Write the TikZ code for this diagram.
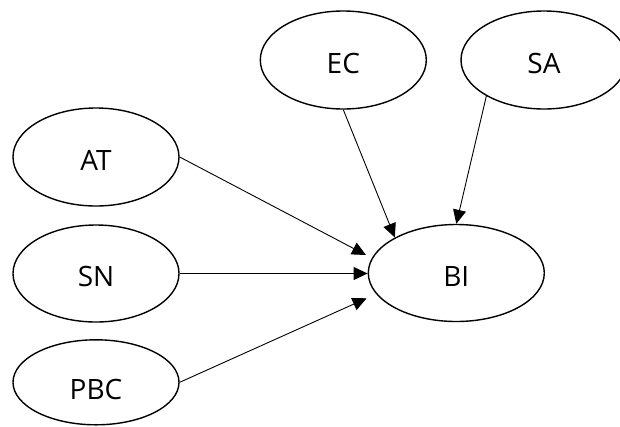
\documentclass[tikz,border=0pt]{standalone}
\usepackage{fontspec}
\setmainfont{Open Sans}
\usetikzlibrary{shapes.geometric,arrows.meta,calc}

\tikzset{
  construct/.style={ellipse, draw=black, line width=1.4pt, fill=white,
    inner sep=0pt, minimum width=166pt, minimum height=98pt,
    font=\fontsize{28}{33}\selectfont, text height=26.5pt, text depth=0pt},
  link/.style={draw=black, line width=0.9pt,
    -{Triangle[length=14pt,width=13pt]}}
}

\begin{document}
\begin{tikzpicture}[x=1pt, y=-1pt]
  \clip (0,0) rectangle (620,426);
  \useasboundingbox (0,0) rectangle (620,426);

  % exogenous constructs on the left
  \node[construct] (AT)  at (96,157)   {AT};
  \node[construct, minimum height=97pt] (SN) at (96,273.5) {SN};
  \node[construct, minimum height=85pt, text height=34.5pt] (PBC) at (96,382.3) {PBC};

  % constructs along the top
  \node[construct] (EC) at (343.3,60) {EC};
  \node[construct] (SA) at (544,60)   {SA};

  % dependent construct
  \node[construct, minimum width=176pt, minimum height=97pt] (BI) at (456.3,273) {BI};

  % arrow end points just outside BI
  \coordinate (toAT)  at ($(BI.west)+(-1.6,-18)$);
  \coordinate (toPBC) at ($(BI.west)+(-1,25.3)$);

  \draw[link] (AT.east) -- (toAT);
  \draw[link] (SN.east) -- (SN.east -| BI.west);
  \draw[link] (PBC.east) -- (toPBC);
  \draw[link] (EC.south) -- (BI.150);
  \draw[link] (SA.212) -- (BI.north);
\end{tikzpicture}
\end{document}
